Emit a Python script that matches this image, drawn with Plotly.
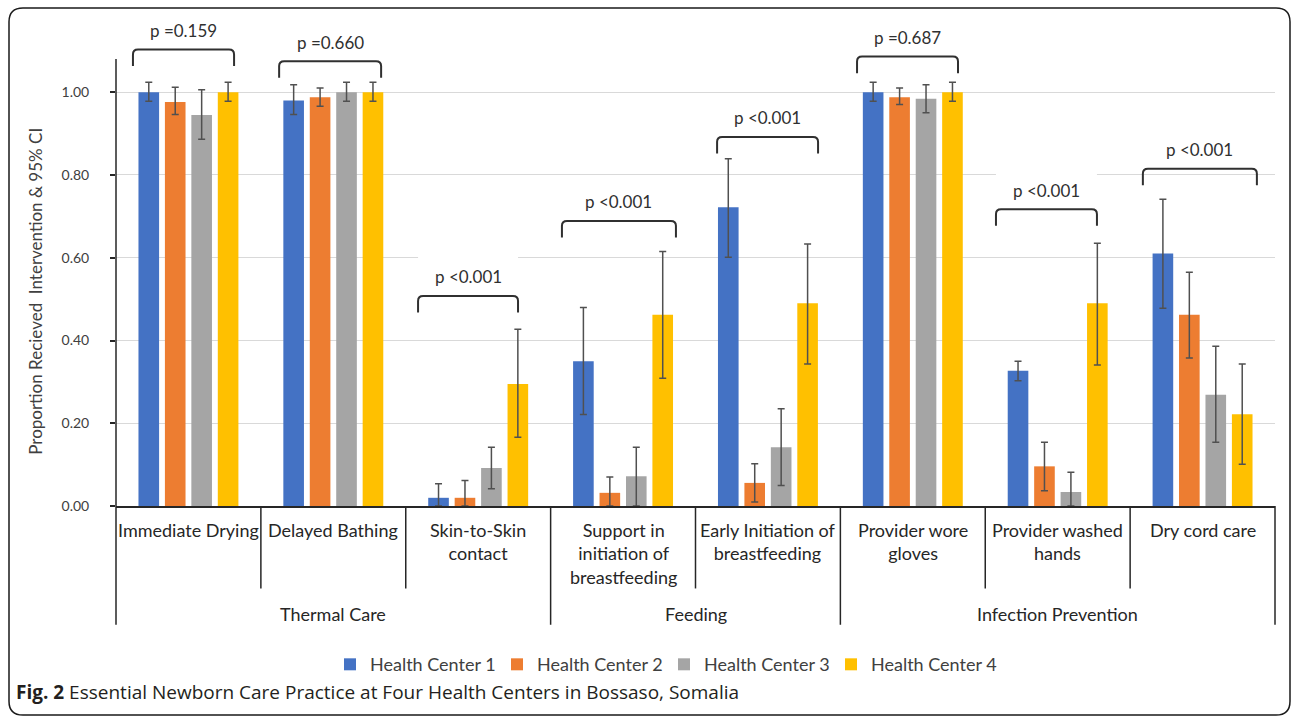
import plotly.graph_objects as go

# ---------------- data ----------------
categories = ["Immediate Drying", "Delayed Bathing", "Skin-to-Skin<br>contact",
              "Support in<br>initiation of<br>breastfeeding", "Early Initiation of<br>breastfeeding",
              "Provider wore<br>gloves", "Provider washed<br>hands", "Dry cord care"]
groups = ["Thermal Care", "Feeding", "Infection Prevention"]
group_sizes = [3, 2, 3]
series_names = ["Health Center 1", "Health Center 2", "Health Center 3", "Health Center 4"]

hc1 = [1.000, 0.980, 0.020, 0.350, 0.722, 1.000, 0.327, 0.610]
hc1_lo = [0.978, 0.946, 0.000, 0.221, 0.601, 0.978, 0.303, 0.478]
hc1_hi = [1.024, 1.018, 0.054, 0.480, 0.839, 1.024, 0.350, 0.741]

hc2 = [0.976, 0.988, 0.020, 0.032, 0.056, 0.988, 0.096, 0.462]
hc2_lo = [0.946, 0.966, 0.000, 0.000, 0.010, 0.970, 0.037, 0.358]
hc2_hi = [1.012, 1.010, 0.062, 0.070, 0.102, 1.010, 0.154, 0.565]

hc3 = [0.945, 1.000, 0.092, 0.072, 0.142, 0.984, 0.034, 0.269]
hc3_lo = [0.886, 0.978, 0.042, 0.000, 0.050, 0.950, 0.000, 0.154]
hc3_hi = [1.006, 1.024, 0.142, 0.142, 0.235, 1.018, 0.082, 0.386]

hc4 = [1.000, 1.000, 0.295, 0.462, 0.490, 1.000, 0.490, 0.222]
hc4_lo = [0.978, 0.978, 0.166, 0.309, 0.343, 0.978, 0.341, 0.101]
hc4_hi = [1.024, 1.024, 0.427, 0.615, 0.633, 1.024, 0.635, 0.343]

p_labels = ["p =0.159", "p =0.660", "p <0.001", "p <0.001", "p <0.001", "p =0.687", "p <0.001", "p <0.001"]
p_levels = [1.103, 1.075, 0.5075, 0.689, 0.892, 1.086, 0.717, 0.815]

y_ticks = [0.0, 0.2, 0.4, 0.6, 0.8, 1.0]

# ---------------- layout constants ----------------
W, H = 1292, 728
colors = ["#4472C4", "#ED7D31", "#A5A5A5", "#FFC000"]
bracket_l = [-0.383, -0.374, -0.415, -0.422, -0.351, -0.385, -0.426, -0.412]
bracket_r = [0.315, 0.330, 0.275, 0.365, 0.346, 0.312, 0.271, 0.375]
XD = [116 / W, 1275 / W]
Y0_PX = 511.7
Y_MAX = 1.16
Y_SCALE = 418.5
YD = [1 - Y0_PX / H, 1 - (Y0_PX - Y_MAX * Y_SCALE) / H]
FONT = "Lato, 'Open Sans', sans-serif"
TXT = "#404040"

n = len(categories)
xs = list(range(n))


def px_y(py):
    return 1 - py / H


def px_x(px):
    return px / W


def xp(v):
    # data x -> paper x
    return XD[0] + (v + 0.5) / n * (XD[1] - XD[0])


fig = go.Figure()
vals = [hc1, hc2, hc3, hc4]
los = [hc1_lo, hc2_lo, hc3_lo, hc4_lo]
his = [hc1_hi, hc2_hi, hc3_hi, hc4_hi]
for name, v, lo, hi, c in zip(series_names, vals, los, his, colors):
    fig.add_trace(go.Bar(
        x=xs, y=v, name=name, marker=dict(color=c, line=dict(width=0)),
        error_y=dict(type="data", symmetric=False,
                     array=[h - a for h, a in zip(hi, v)],
                     arrayminus=[a - l for a, l in zip(v, lo)],
                     color="#505050", thickness=1.5, width=3.5),
    ))

shapes = []
annotations = []

# y axis line
shapes.append(dict(type="line", xref="paper", yref="y", x0=XD[0], x1=XD[0], y0=0, y1=1.08,
                   line=dict(color="#262626", width=1.5)))
# category separators
bounds_group = [0]
acc = 0
for s in group_sizes:
    acc += s
    bounds_group.append(acc)
for b in range(n + 1):
    bottom = 631.7 if b in bounds_group else 595
    shapes.append(dict(type="line", xref="paper", yref="paper", x0=xp(b - 0.5), x1=xp(b - 0.5),
                       y0=px_y(Y0_PX), y1=px_y(bottom), line=dict(color="#262626", width=1.5)))

# category labels
for i, c in enumerate(categories):
    annotations.append(dict(xref="paper", yref="paper", x=xp(i), y=px_y(523), text=c,
                            showarrow=False, xanchor="center", yanchor="top",
                            font=dict(family=FONT, size=18, color="#262626")))
# group labels
for g, (a, b) in enumerate(zip(bounds_group[:-1], bounds_group[1:])):
    annotations.append(dict(xref="paper", yref="paper", x=xp((a + b - 1) / 2), y=px_y(620.5),
                            text=groups[g], showarrow=False, xanchor="center", yanchor="middle",
                            font=dict(family=FONT, size=18, color="#262626")))

# brackets with p-values
dy = 0.04
ry = 0.012
rx = 0.035
for i, (lab, lvl) in enumerate(zip(p_labels, p_levels)):
    xl = i + bracket_l[i]
    xr = i + bracket_r[i]
    shapes.append(dict(type="rect", xref="x", yref="y", x0=xl, x1=xr, y0=lvl + 0.02, y1=lvl + 0.10,
                       fillcolor="white", line=dict(width=0), layer="between"))
    path = (f"M {xl},{lvl - dy} L {xl},{lvl - ry} Q {xl},{lvl} {xl + rx},{lvl} "
            f"L {xr - rx},{lvl} Q {xr},{lvl} {xr},{lvl - ry} L {xr},{lvl - dy}")
    shapes.append(dict(type="path", xref="x", yref="y", path=path,
                       line=dict(color="#303030", width=2)))
    annotations.append(dict(xref="x", yref="y", x=(xl + xr) / 2, y=lvl + 0.046, text=lab,
                            showarrow=False, xanchor="center", yanchor="middle",
                            font=dict(family=FONT, size=17, color="#303030")))

# y axis title
annotations.append(dict(xref="paper", yref="paper", x=px_x(36), y=px_y(295),
                        text="Proportion Recieved  Intervention & 95% CI", textangle=-90,
                        showarrow=False, xanchor="center", yanchor="middle",
                        font=dict(family=FONT, size=17, color=TXT)))

# caption
annotations.append(dict(xref="paper", yref="paper", x=px_x(14), y=px_y(700),
                        text="<b>Fig. 2</b> Essential Newborn Care Practice at Four Health Centers in Bossaso, Somalia",
                        showarrow=False, xanchor="left", yanchor="middle",
                        font=dict(family="'Open Sans', sans-serif", size=19, color="#231f20")))

# outer rounded border
L, R, T, B, r = px_x(9), px_x(1290), px_y(8), px_y(723), 14
rxp, ryp = r / W, r / H
border = (f"M {L},{B + ryp} L {L},{T - ryp} Q {L},{T} {L + rxp},{T} L {R - rxp},{T} "
          f"Q {R},{T} {R},{T - ryp} L {R},{B + ryp} Q {R},{B} {R - rxp},{B} "
          f"L {L + rxp},{B} Q {L},{B} {L},{B + ryp} Z")
shapes.append(dict(type="path", xref="paper", yref="paper", path=border,
                   line=dict(color="#1a1a1a", width=1.5)))

fig.update_layout(
    width=W, height=H,
    margin=dict(l=0, r=0, t=0, b=0),
    paper_bgcolor="white", plot_bgcolor="white",
    barmode="group", bargap=0.27, bargroupgap=0.22,
    font=dict(family=FONT, color=TXT),
    xaxis=dict(domain=XD, range=[-0.5, n - 0.5], showticklabels=False, ticks="",
               showgrid=False, zeroline=False, showline=True, linecolor="#262626", linewidth=1.5,
               fixedrange=True),
    yaxis=dict(domain=YD, range=[0, Y_MAX], tickvals=y_ticks, tickformat=".2f",
               showgrid=True, gridcolor="#D9D9D9", gridwidth=1, zeroline=False, showline=False,
               ticks="outside", ticklen=5, tickcolor="#262626", tickwidth=1.5,
               ticklabelstandoff=18, tickfont=dict(family=FONT, size=14, color="#404040"),
               fixedrange=True),
    legend=dict(orientation="h", x=px_x(330), xanchor="left", y=px_y(672), yanchor="middle",
                font=dict(family=FONT, size=18, color="#404040"), bgcolor="rgba(0,0,0,0)",
                entrywidth=122, itemwidth=30, traceorder="normal"),
    shapes=shapes,
    annotations=annotations,
)

fig.write_html("out.html", config={"displayModeBar": False},
               post_script="document.body.style.margin='0';document.body.style.overflow='hidden';")
